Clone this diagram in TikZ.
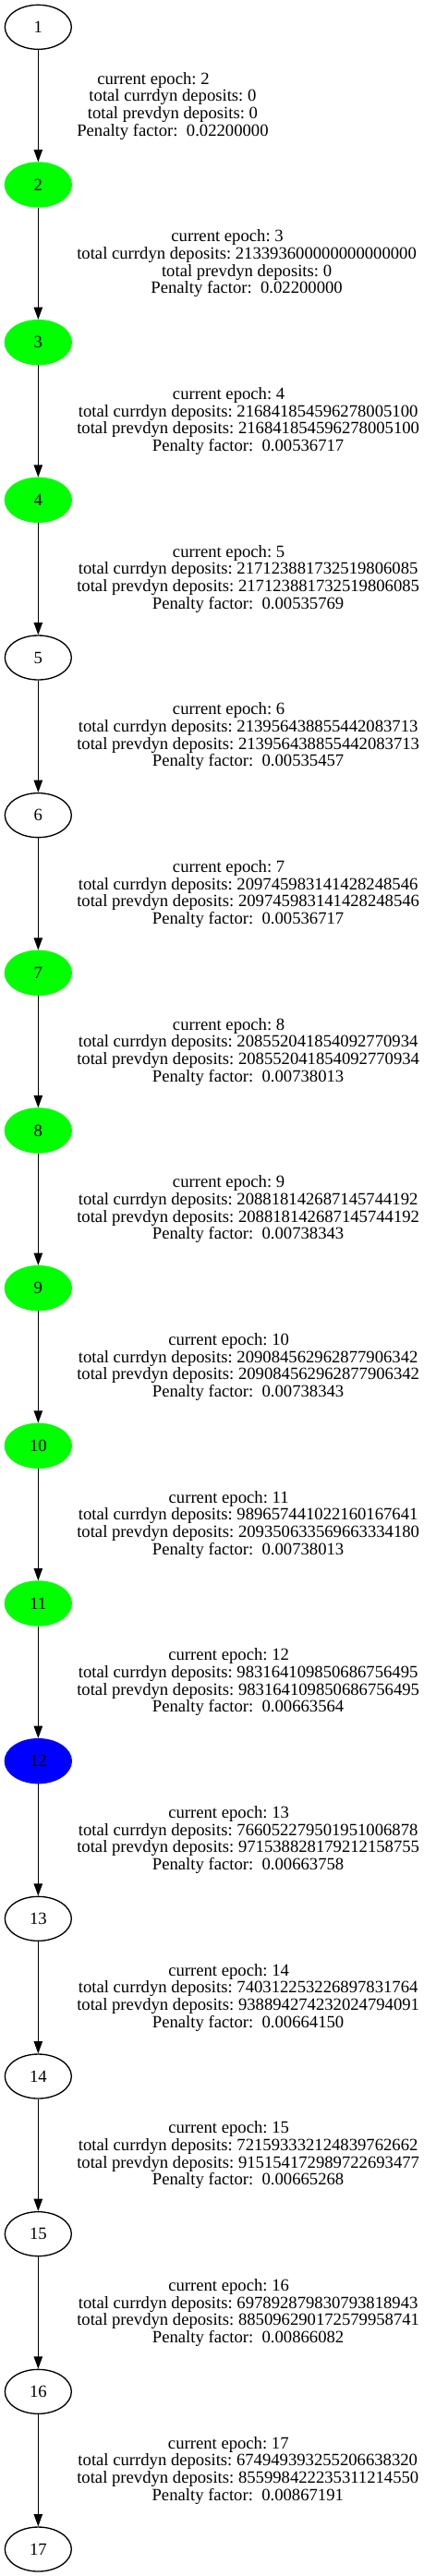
\documentclass[tikz,border=0pt]{standalone}
\usepackage{fontspec}
\setmainfont{Liberation Serif}
\usetikzlibrary{shapes.geometric,arrows.meta}
\definecolor{gvgreen}{RGB}{0,255,0}
\definecolor{gvblue}{RGB}{0,0,255}
\frenchspacing
\tikzset{
  base/.style={ellipse, minimum width=54pt, minimum height=36pt, inner sep=0pt, line width=1pt, font=\fontsize{14}{14}\selectfont},
  plainnode/.style={base, draw=black, fill=white},
  greennode/.style={base, draw=gvgreen, fill=gvgreen},
  bluenode/.style={base, draw=gvblue, fill=gvblue},
  edge/.style={line width=1pt, -{Triangle[length=10pt,width=7pt]}},
  elabel/.style={anchor=west, inner sep=0pt, align=center, font=\fontsize{14}{14}\selectfont}
}
\newcommand{\ep}[1]{current epoch: #1\hspace*{31.5pt}\mbox{}}
\begin{document}
\begin{tikzpicture}[x=1pt,y=1pt]
\useasboundingbox (0,0) rectangle (344.25,-2091.75);
\node[plainnode] (n1)  at (31,-22) {1};
\node[greennode] (n2)  at (31,-150) {2};
\node[greennode] (n3)  at (31,-278) {3};
\node[greennode] (n4)  at (31,-406) {4};
\node[plainnode] (n5)  at (31,-534) {5};
\node[plainnode] (n6)  at (31,-662) {6};
\node[greennode] (n7)  at (31,-790) {7};
\node[greennode] (n8)  at (31,-918) {8};
\node[greennode] (n9)  at (31,-1046) {9};
\node[greennode] (n10) at (31,-1174) {10};
\node[greennode] (n11) at (31,-1302) {11};
\node[bluenode]  (n12) at (31,-1430) {12};
\node[plainnode] (n13) at (31,-1558) {13};
\node[plainnode] (n14) at (31,-1686) {14};
\node[plainnode] (n15) at (31,-1814) {15};
\node[plainnode] (n16) at (31,-1942) {16};
\node[plainnode] (n17) at (31,-2070) {17};

\draw[edge] (n1) -- (n2);
\draw[edge] (n2) -- (n3);
\draw[edge] (n3) -- (n4);
\draw[edge] (n4) -- (n5);
\draw[edge] (n5) -- (n6);
\draw[edge] (n6) -- (n7);
\draw[edge] (n7) -- (n8);
\draw[edge] (n8) -- (n9);
\draw[edge] (n9) -- (n10);
\draw[edge] (n10) -- (n11);
\draw[edge] (n11) -- (n12);
\draw[edge] (n12) -- (n13);
\draw[edge] (n13) -- (n14);
\draw[edge] (n14) -- (n15);
\draw[edge] (n15) -- (n16);
\draw[edge] (n16) -- (n17);

\node[elabel] (l1) at (62.25,-86) {\ep{2}\\total currdyn deposits: 0\\total prevdyn deposits: 0\\Penalty factor:\ \ 0.02200000};
\node[elabel] (l2) at (62.25,-214) {\ep{3}\\total currdyn deposits: 213393600000000000000\\total prevdyn deposits: 0\\Penalty factor:\ \ 0.02200000};
\node[elabel] (l3) at (62.25,-342) {\ep{4}\\total currdyn deposits: 216841854596278005100\\total prevdyn deposits: 216841854596278005100\\Penalty factor:\ \ 0.00536717};
\node[elabel] (l4) at (62.25,-470) {\ep{5}\\total currdyn deposits: 217123881732519806085\\total prevdyn deposits: 217123881732519806085\\Penalty factor:\ \ 0.00535769};
\node[elabel] (l5) at (62.25,-598) {\ep{6}\\total currdyn deposits: 213956438855442083713\\total prevdyn deposits: 213956438855442083713\\Penalty factor:\ \ 0.00535457};
\node[elabel] (l6) at (62.25,-726) {\ep{7}\\total currdyn deposits: 209745983141428248546\\total prevdyn deposits: 209745983141428248546\\Penalty factor:\ \ 0.00536717};
\node[elabel] (l7) at (62.25,-854) {\ep{8}\\total currdyn deposits: 208552041854092770934\\total prevdyn deposits: 208552041854092770934\\Penalty factor:\ \ 0.00738013};
\node[elabel] (l8) at (62.25,-982) {\ep{9}\\total currdyn deposits: 208818142687145744192\\total prevdyn deposits: 208818142687145744192\\Penalty factor:\ \ 0.00738343};
\node[elabel] (l9) at (62.25,-1110) {\ep{10}\\total currdyn deposits: 209084562962877906342\\total prevdyn deposits: 209084562962877906342\\Penalty factor:\ \ 0.00738343};
\node[elabel] (l10) at (62.25,-1238) {\ep{11}\\total currdyn deposits: 989657441022160167641\\total prevdyn deposits: 209350633569663334180\\Penalty factor:\ \ 0.00738013};
\node[elabel] (l11) at (62.25,-1366) {\ep{12}\\total currdyn deposits: 983164109850686756495\\total prevdyn deposits: 983164109850686756495\\Penalty factor:\ \ 0.00663564};
\node[elabel] (l12) at (62.25,-1494) {\ep{13}\\total currdyn deposits: 766052279501951006878\\total prevdyn deposits: 971538828179212158755\\Penalty factor:\ \ 0.00663758};
\node[elabel] (l13) at (62.25,-1622) {\ep{14}\\total currdyn deposits: 740312253226897831764\\total prevdyn deposits: 938894274232024794091\\Penalty factor:\ \ 0.00664150};
\node[elabel] (l14) at (62.25,-1750) {\ep{15}\\total currdyn deposits: 721593332124839762662\\total prevdyn deposits: 915154172989722693477\\Penalty factor:\ \ 0.00665268};
\node[elabel] (l15) at (62.25,-1878) {\ep{16}\\total currdyn deposits: 697892879830793818943\\total prevdyn deposits: 885096290172579958741\\Penalty factor:\ \ 0.00866082};
\node[elabel] (l16) at (62.25,-2006) {\ep{17}\\total currdyn deposits: 674949393255206638320\\total prevdyn deposits: 855998422235311214550\\Penalty factor:\ \ 0.00867191};
\end{tikzpicture}
\end{document}
